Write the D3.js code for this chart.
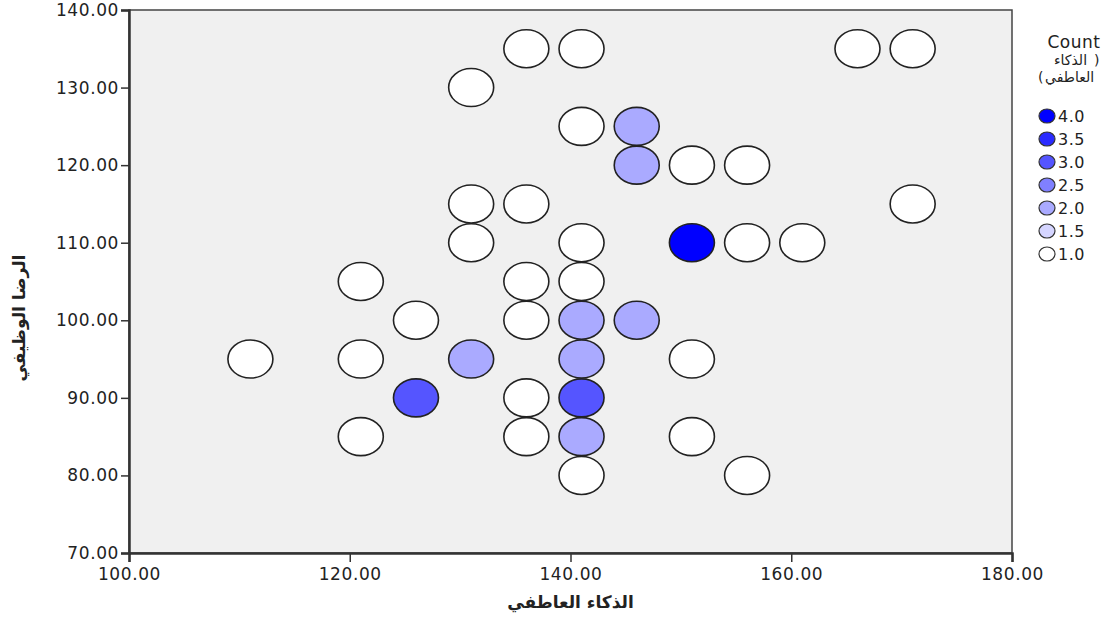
<!DOCTYPE html>
<html>
<head>
<meta charset="utf-8">
<script src="https://cdn.jsdelivr.net/npm/d3@7"></script>
<style>
  body { margin: 0; background: #fff; }
  text { font-family: "DejaVu Sans", sans-serif; fill: #222; }
</style>
</head>
<body>
<svg id="chart" width="1114" height="623"></svg>
<script>
// emotional intelligence (x), job satisfaction (y), count of cases
var xVals     = [136, 141, 166, 171, 131, 141, 146, 146, 151, 156, 131, 136, 171,
                 131, 141, 151, 156, 161, 121, 136, 141, 126, 136, 141, 146,
                 111, 121, 131, 141, 151, 126, 136, 141, 121, 136, 141, 151, 141, 156];
var yVals     = [135, 135, 135, 135, 130, 125, 125, 120, 120, 120, 115, 115, 115,
                 110, 110, 110, 110, 110, 105, 105, 105, 100, 100, 100, 100,
                 95, 95, 95, 95, 95, 90, 90, 90, 85, 85, 85, 85, 80, 80];
var counts    = [1, 1, 1, 1, 1, 1, 2, 2, 1, 1, 1, 1, 1,
                 1, 1, 4, 1, 1, 1, 1, 1, 1, 1, 2, 2,
                 1, 1, 2, 2, 1, 3, 1, 3, 1, 1, 2, 1, 1, 1];
var xTicks    = [100, 120, 140, 160, 180];
var yTicks    = [70, 80, 90, 100, 110, 120, 130, 140];
var legendVals = [4.0, 3.5, 3.0, 2.5, 2.0, 1.5, 1.0];

var svg = d3.select("#chart");
// plot edges (note: "top" is reserved on window, so use other names)
var plotL = 129, plotR = 1012, plotT = 10, plotB = 553;

var x = d3.scaleLinear().domain([100, 180]).range([plotL, plotR]);
var y = d3.scaleLinear().domain([70, 140]).range([plotB, plotT]);
var color = d3.scaleLinear().domain([1, 4]).range(["#ffffff", "#0000ff"]);

// plot background
svg.append("rect")
    .attr("x", plotL).attr("y", plotT)
    .attr("width", plotR - plotL).attr("height", plotB - plotT)
    .attr("fill", "#f0f0f0")
    .attr("stroke", "#444")
    .attr("stroke-width", 1.5);

// points
var pts = d3.range(xVals.length).map(function(i) {
    return { x: xVals[i], y: yVals[i], c: counts[i] };
});
svg.append("g").selectAll("ellipse")
    .data(pts)
    .enter().append("ellipse")
    .attr("cx", function(d) { return x(d.x); })
    .attr("cy", function(d) { return y(d.y); })
    .attr("rx", 22.5)
    .attr("ry", 19)
    .attr("fill", function(d) { return color(d.c); })
    .attr("stroke", "#222")
    .attr("stroke-width", 1.6);

// axes
var xAxis = svg.append("g")
    .attr("transform", "translate(0," + plotB + ")")
    .call(d3.axisBottom(x).tickValues(xTicks).tickSize(9).tickPadding(6)
        .tickFormat(d3.format(".2f")));
var yAxis = svg.append("g")
    .attr("transform", "translate(" + plotL + ",0)")
    .call(d3.axisLeft(y).tickValues(yTicks).tickSize(8).tickPadding(2)
        .tickFormat(d3.format(".2f")));

[xAxis, yAxis].forEach(function(a) {
    a.select(".domain").attr("stroke", "#333").attr("stroke-width", 2.5);
    a.selectAll(".tick line").attr("stroke", "#333").attr("stroke-width", 1.5);
    a.selectAll(".tick text")
        .attr("fill", "#222")
        .style("font-size", "17px")
        .style("letter-spacing", "0.6px")
        .style("font-family", "DejaVu Sans, sans-serif");
});

// axis titles
svg.append("text")
    .attr("x", x(140)).attr("y", 608)
    .attr("text-anchor", "middle")
    .style("font-size", "17px").style("font-weight", "bold")
    .text("الذكاء العاطفي");

svg.append("text")
    .attr("transform", "translate(25,318) rotate(-90)")
    .attr("text-anchor", "middle")
    .style("font-size", "17px").style("font-weight", "bold")
    .text("الرضا الوظيفي");

// legend title: words and brackets placed separately so bidi can't move them
var lg = svg.append("g");
lg.append("text").attr("x", 1074).attr("y", 48)
    .attr("text-anchor", "middle")
    .style("font-size", "17px").style("letter-spacing", "0.5px")
    .text("Count");
lg.append("text").attr("x", 1054).attr("y", 65)
    .style("font-size", "14px")
    .text("الذكاء");
lg.append("text").attr("x", 1094).attr("y", 65)
    .style("font-size", "14px").text(")");
lg.append("text").attr("x", 1038).attr("y", 82)
    .style("font-size", "14px").text("(");
lg.append("text").attr("x", 1045).attr("y", 82)
    .style("font-size", "14px").text("العاطفي");

var item = lg.selectAll("g.item")
    .data(legendVals)
    .enter().append("g")
    .attr("class", "item")
    .attr("transform", function(d, i) { return "translate(1047," + (116 + i * 23) + ")"; });
item.append("ellipse")
    .attr("rx", 8).attr("ry", 7)
    .attr("fill", function(d) { return color(d); })
    .attr("stroke", "#333").attr("stroke-width", 1.2);
item.append("text")
    .attr("x", 11).attr("dy", "0.36em")
    .style("font-size", "16px").style("letter-spacing", "0.5px")
    .text(function(d) { return d.toFixed(1); });
</script>
</body>
</html>
